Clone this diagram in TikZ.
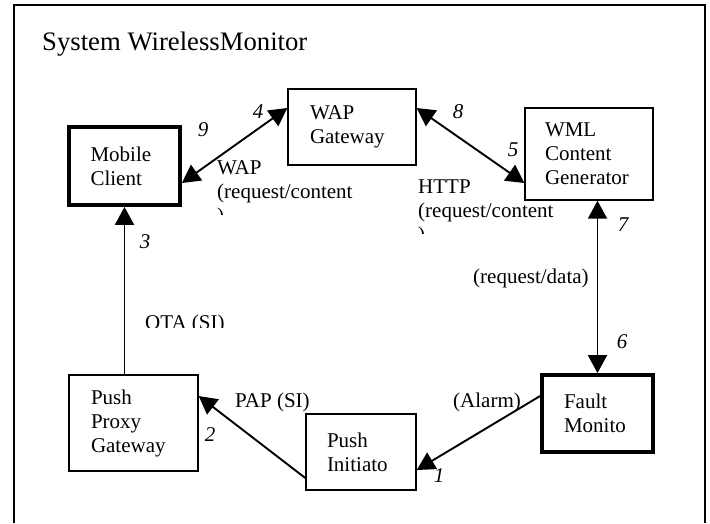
\documentclass[tikz,border=0pt]{standalone}
\usepackage{fontspec}
\setmainfont{Liberation Serif}
\usetikzlibrary{calc,positioning}
\usetikzlibrary{arrows.meta}

\begin{document}
\begin{tikzpicture}[%
    x=1pt, y=-1pt,
    text=black,
    node font=\fontsize{21}{24}\selectfont,
    >={Triangle[length=18pt,width=19pt]},
    box/.style={rectangle, draw, line width=1.4pt, inner sep=0pt},
    heavy/.style={box, line width=3.8pt},
    link/.style={line width=1.9pt},
    num/.style={font=\fontsize{21}{24}\selectfont\itshape, inner sep=0pt},
    lbl/.style={anchor=base west, inner sep=0pt, align=left}]

  \useasboundingbox (0,0) rectangle (710,523);

  % system frame, open at the bottom
  \draw[line width=1.8pt] (14,523) -- (14,5) -- (705,5) -- (705,523);

  \node (TTL) at (42,50) [anchor=base west, inner sep=0pt,
    font=\fontsize{26.7}{30}\selectfont] {System WirelessMonitor};

  % --- components ------------------------

  \node (MC) at (124.5,166) [heavy, minimum width=111pt, minimum height=78pt]
        {\parbox[c]{68pt}{Mobile\\Client}};

  \node (WAP) at (352,127) [box, minimum width=128pt, minimum height=76pt]
        {\parbox[c]{84pt}{WAP\\Gateway}};

  \node (WML) at (589,154) [box, minimum width=128pt, minimum height=92pt]
        {\parbox[c]{88pt}{WML\\Content\\Generator}};

  \node (PPG) at (133.5,423) [box, minimum width=129pt, minimum height=96pt]
        {\parbox[c]{85pt}{Push\\Proxy\\Gateway}};

  \node (PI) at (361,452) [box, minimum width=110pt, minimum height=76pt]
        {\parbox[c]{68pt}{Push\\Initiato}};

  \node (FM) at (597.5,413.5) [heavy, minimum width=111pt, minimum height=77pt]
        {\parbox[c]{67pt}{Fault\\Monito}};

  % --- links ------------------------------

  \draw[link,<->] ([yshift=-17pt]MC.east) -- ([yshift=19pt]WAP.west);
  \draw[link,<->] ([yshift=19pt]WAP.east) -- ([yshift=-29pt]WML.west);
  \draw[link,<->] (FM.north |- WML.south) -- (FM.north);
  \draw[link,->] (MC.south |- PPG.north) -- (MC.south);
  \draw[link,->] ([yshift=-26pt]PI.west) -- ([yshift=27pt]PPG.east);
  \draw[link,->] ([yshift=17.5pt]FM.west) -- ([yshift=-18pt]PI.east);

  % step numbers
  \node (N1) at (439,476) [num] {1};
  \node (N2) at (210,435) [num] {2};
  \node (N3) at (145,242) [num] {3};
  \node (N4) at (258,112) [num] {4};
  \node (N5) at (513,150) [num] {5};
  \node (N6) at (622,342) [num] {6};
  \node (N7) at (623,225) [num] {7};
  \node (N8) at (458,112) [num] {8};
  \node (N9) at (203,130) [num] {9};

  % protocol labels (text boxes cut off at the bottom)
  % base of a multi-line label is its last line
  \begin{scope}
    \clip (200,150) rectangle (372,214)
          (405,170) rectangle (575,233)
          (130,300) rectangle (245,327)
          (460,260) rectangle (602,288);
    \node (LWAP) at (217,222) [lbl] {WAP\\(request/content\\)};
    \node (LHTTP) at (418,241) [lbl] {HTTP\\(request/content\\)};
    \node (LOTA) at (145,329) [lbl] {OTA (SI)};
    \node (LREQ) at (473,283) [lbl] {(request/data)};
  \end{scope}

  \node (LPAP) at (235,407) [lbl] {PAP (SI)};
  \node (LALM) at (453,407) [lbl] {(Alarm)};
\end{tikzpicture}
\end{document}
